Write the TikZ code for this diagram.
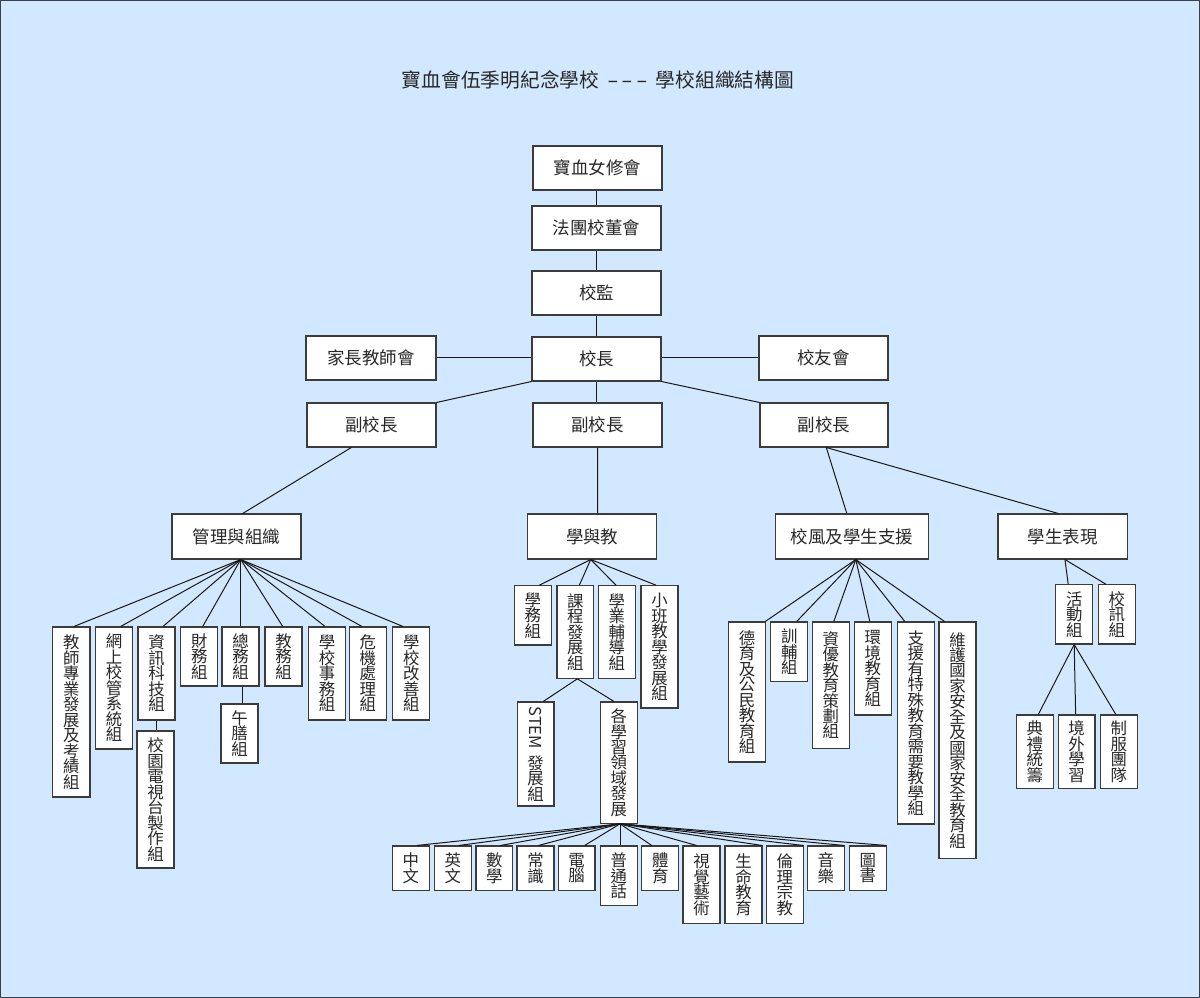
\documentclass[tikz,border=0pt]{standalone}
\usepackage{fontspec}
\setmainfont{Noto Sans CJK TC}
\usetikzlibrary{calc}
\definecolor{bg}{RGB}{210,232,254}
\definecolor{frame}{RGB}{55,65,80}
\definecolor{boxline}{RGB}{60,60,60}
\definecolor{ink}{RGB}{25,25,25}
\definecolor{txt}{RGB}{40,40,40}
\makeatletter
\newcommand\vt[1]{\vt@a#1\@nil}
\def\vt@a#1#2\@nil{#1\ifx\relax#2\relax\expandafter\@gobble\else\expandafter\@firstofone\fi{\\\vt@a#2\@nil}}
\makeatother
\newcommand\hfnt{\fontsize{13.1}{15}\selectfont}
\newcommand\vfnt{\fontsize{12.3}{11.6}\selectfont\lineskiplimit=-20pt\relax}
\newcommand\hy{\scalebox{1.7}[1]{-}}
\tikzset{
  box/.style={draw=boxline, fill=white, line width=0.8pt, inner sep=0pt, text=txt, align=center},
  hbox/.style={box, font=\hfnt},
  vbox/.style={box, font=\vfnt},
  link/.style={draw=ink, line width=0.75pt},
  titletext/.style={text=txt, font=\fontsize{14.8}{17}\selectfont, inner sep=0pt},
}
\newcommand\bx[7][hbox]{\node[#1, minimum width={(#5-#3)*0.75pt}, minimum height={(#6-#4)*0.75pt}] (#2) at ({(#3+#5)/2},{(#4+#6)/2}) {#7};}
\begin{document}
\begin{tikzpicture}[x=0.75pt,y=-0.75pt]
\path[use as bounding box] (0,0) rectangle (1200,998);
\fill[bg] (0,0) rectangle (1200,998);
\draw[frame, line width=1.1pt] (0.75,0.75) rectangle (1199.25,997.25);

\node[titletext] (title) at (598,80) {寶血會伍季明紀念學校\hspace{6pt}\hy\kern2.2pt\hy\kern2.2pt\hy\hspace{6pt}學校組織結構圖};

% top chain
\bx{sisters}{533}{146}{662}{190}{寶血女修會}
\bx{board}{532}{206}{661}{250}{法團校董會}
\bx{super}{532}{271}{661}{315}{校監}
\bx{principal}{532}{337}{661}{381}{校長}
\bx{pta}{306}{336}{436}{380}{家長教師會}
\bx{alumni}{759}{336}{888}{380}{校友會}
\bx{vpL}{307}{403}{436}{447}{副校長}
\bx{vpM}{533}{403}{662}{447}{副校長}
\bx{vpR}{760}{403}{888}{447}{副校長}
\bx{mgmt}{172}{514}{301}{559}{管理與組織}
\bx{learn}{527.7}{514}{656.7}{559}{學與教}
\bx{ethos}{775.3}{514}{928.3}{559}{校風及學生支援}
\bx{perf}{998}{514}{1127.3}{559}{學生表現}

% management
\bx[vbox]{m1}{52.7}{627}{90}{797}{\vt{教師專業發展及考績組}}
\bx[vbox]{m2}{95.7}{627}{132.3}{749}{\vt{網上校管系統組}}
\bx[vbox]{m3}{138}{627}{175}{720}{\vt{資訊科技組}}
\bx[vbox]{m3a}{137}{731}{174}{868}{\vt{校園電視台製作組}}
\bx[vbox]{m4}{180.7}{627}{217.7}{686}{\vt{財務組}}
\bx[vbox]{m5}{222}{627}{259}{686}{\vt{總務組}}
\bx[vbox]{m5a}{221}{704}{258}{763}{\vt{午膳組}}
\bx[vbox]{m6}{265}{627}{302}{686}{\vt{教務組}}
\bx[vbox]{m7}{308.7}{627}{345.3}{720}{\vt{學校事務組}}
\bx[vbox]{m8}{349.3}{627}{386.3}{720}{\vt{危機處理組}}
\bx[vbox]{m9}{392.7}{627}{429.7}{720}{\vt{學校改善組}}

% learning and teaching
\bx[vbox]{l1}{514.3}{585.7}{551.3}{645}{\vt{學務組}}
\bx[vbox]{l2}{557}{585.7}{593.7}{678.3}{\vt{課程發展組}}
\bx[vbox]{l3}{598.3}{585.7}{635.3}{678.3}{\vt{學業輔導組}}
\bx[vbox]{l4}{641}{585.7}{678}{708}{\vt{小班教學發展組}}
\bx[vbox]{stem}{517.3}{702}{554}{806}{\rotatebox{-90}{STEM}\\[4pt]\vt{發展組}}
\bx[vbox]{kla}{600.3}{702}{637.3}{823.3}{\vt{各學習領域發展}}

% subjects
\bx[vbox]{s1}{392.3}{846}{429.3}{890.3}{\vt{中文}}
\bx[vbox]{s2}{434.3}{846}{471.3}{890.3}{\vt{英文}}
\bx[vbox]{s3}{476}{846}{512.7}{890.3}{\vt{數學}}
\bx[vbox]{s4}{517}{846}{554}{890.3}{\vt{常識}}
\bx[vbox]{s5}{558.3}{846}{595}{890.3}{\vt{電腦}}
\bx[vbox]{s6}{600.3}{846}{637.3}{905.7}{\vt{普通話}}
\bx[vbox]{s7}{641.7}{846}{678.7}{890.3}{\vt{體育}}
\bx[vbox]{s8}{683}{846}{720}{923.7}{\vt{視覺藝術}}
\bx[vbox]{s9}{725}{846}{762}{923.7}{\vt{生命教育}}
\bx[vbox]{s10}{766.3}{846}{803.3}{923.7}{\vt{倫理宗教}}
\bx[vbox]{s11}{807.3}{846}{844.3}{890.3}{\vt{音樂}}
\bx[vbox]{s12}{849.3}{846}{886.3}{890.3}{\vt{圖書}}

% ethos and support
\bx[vbox]{e1}{728.7}{622}{765.3}{762}{\vt{德育及公民教育組}}
\bx[vbox]{e2}{770.7}{622}{807.7}{681.7}{\vt{訓輔組}}
\bx[vbox]{e3}{812.3}{622}{849.3}{748.3}{\vt{資優教育策劃組}}
\bx[vbox]{e4}{854.3}{622}{891.3}{715}{\vt{環境教育組}}
\bx[vbox]{e5}{897.3}{622}{934.3}{824}{\vt{支援有特殊教育需要教學組}}
\bx[vbox]{e6}{939}{622}{976}{858.3}{\vt{維護國家安全及國家安全教育組}}

% student performance
\bx[vbox]{p1}{1055.7}{584.7}{1092.7}{644}{\vt{活動組}}
\bx[vbox]{p2}{1098.3}{584.7}{1135.3}{644}{\vt{校訊組}}
\bx[vbox]{p1a}{1016.3}{715}{1053.3}{788.7}{\vt{典禮統籌}}
\bx[vbox]{p1b}{1058.3}{715}{1095}{788.7}{\vt{境外學習}}
\bx[vbox]{p1c}{1100.3}{715}{1137.3}{788.7}{\vt{制服團隊}}

% connectors
\draw[link] (board.north) -- (board.north |- sisters.south);
\draw[link] (super.north) -- (board.south);
\draw[link] (principal.north) -- (super.south);
\draw[link] (pta.east) -- (pta.east -| principal.west);
\draw[link] (alumni.west) -- (alumni.west -| principal.east);
\draw[link] (principal.south west) -- (vpL.north east);
\draw[link] (principal.south east) -- (vpR.north west);
\draw[link] (principal.south) -- (principal.south |- vpM.north);
\draw[link] ($(vpL.south)+(-20.2,0)$) -- ($(mgmt.north)+(6.2,0)$);
\draw[link] (vpM.south) -- ($(learn.north)+(5.3,0)$);
\draw[link] ($(vpR.south)+(2.3,0)$) -- ($(ethos.north)+(-5,0)$);
\draw[link] ($(vpR.south)+(2.3,0)$) -- ($(perf.north)+(-4.4,0)$);

\foreach \n/\d in {m1/2.6, m2/6.7, m3/6.5, m4/3.5, m5/0.2, m6/-0.8, m7/-2, m8/-5.8, m9/-8.2}
  \draw[link] ($(mgmt.south)+(4.2,0)$) -- ($(\n.north)+(\d,0)$);
\draw[link] (m3.south) -- (m3.south |- m3a.north);
\draw[link] ($(m5.south)+(1.8,0)$) -- ($(m5a.north)+(2.8,0)$);

\foreach \n/\d in {l1/6.5, l2/4, l3/-0.8, l4/-3.5}
  \draw[link] ($(learn.south)+(-1.5,0)$) -- ($(\n.north)+(\d,0)$);
\draw[link] ($(l2.south)+(2,0)$) -- ($(stem.north)+(7.6,0)$);
\draw[link] ($(l2.south)+(2,0)$) -- ($(kla.north)+(-4.8,0)$);

\foreach \n/\d in {s1/6, s2/6, s3/6, s4/3, s5/8, s6/1.2, s7/-8.5, s8/-5, s9/18.5, s10/18.5, s11/18.5, s12/18.5}
  \draw[link] ($(kla.south)+(1.2,0)$) -- ($(\n.north)+(\d,0)$);

\foreach \n/\d in {e1/18.3, e2/7.5, e3/3, e4/-3, e5/-11, e6/-13}
  \draw[link] ($(ethos.south)+(4,0)$) -- ($(\n.north)+(\d,0)$);

\foreach \n/\d in {p1/-6, p2/-11}
  \draw[link] ($(perf.south)+(2.3,0)$) -- ($(\n.north)+(\d,0)$);
\foreach \n/\d in {p1a/3.5, p1b/-1, p1c/-3}
  \draw[link] (p1.south) -- ($(\n.north)+(\d,0)$);
\end{tikzpicture}
\end{document}
